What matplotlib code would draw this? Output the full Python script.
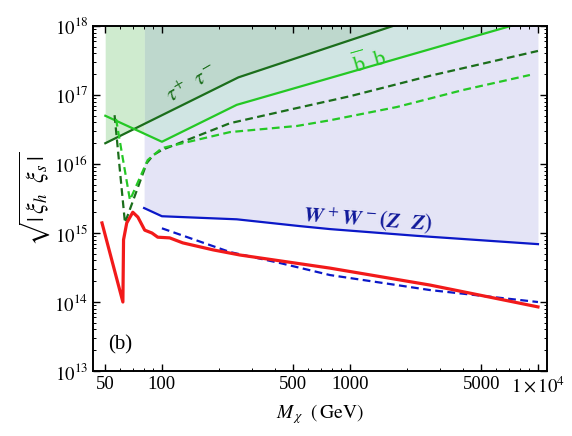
import numpy as np
import matplotlib
matplotlib.use('Agg')
import matplotlib.pyplot as plt
from matplotlib.ticker import LogLocator, NullFormatter, FixedLocator

plt.rcParams['font.family'] = ['Liberation Serif', 'DejaVu Serif']
plt.rcParams['mathtext.fontset'] = 'stix'

# curves (mass in GeV, coupling value)
tau_mass = [50, 255, 10000]
tau_solid = [2.0e16, 1.8e17, 5.0e18]

bb_mass = [50, 100, 250, 10000]
bb_solid = [5.0e16, 2.1e16, 7.2e16, 1.3e18]

tau_dash_mass = [56, 63.6, 83, 90, 100, 230, 500, 1000, 2670, 10000]
tau_dash = [5.1e16, 1.4e15, 1.03e16, 1.35e16, 1.6e16, 3.9e16, 6.3e16, 9.6e16, 1.9e17, 4.35e17]

bb_dash_mass = [57, 67.6, 84, 100, 230, 523, 783, 1778, 3990, 9060]
bb_dash = [4.5e16, 3.0e15, 1.14e16, 1.7e16, 2.9e16, 3.56e16, 4.3e16, 6.7e16, 1.18e17, 1.95e17]

ww_mass = [80.4, 100, 250, 540, 783, 2270, 10000]
ww_solid = [2.3e15, 1.75e15, 1.58e15, 1.26e15, 1.14e15, 9.1e14, 6.9e14]

ww_dash_mass = [100, 230, 425, 783, 2670, 10000]
ww_dash = [1.17e15, 5.3e14, 3.67e14, 2.46e14, 1.49e14, 1.0e14]

red_mass = [48, 62, 62.5, 65, 70, 74.5, 81, 88.5, 95, 110, 129, 187, 260, 783, 2670, 10000]
red_vals = [1.4e15, 1.0e14, 8e14, 1.4e15, 2.0e15, 1.7e15, 1.1e15, 1.0e15, 8.7e14,
            8.5e14, 7.2e14, 5.7e14, 4.8e14, 3.1e14, 1.76e14, 8.5e13]

m_w = 80.4
m_max = 10000
top = 1e18

xticks = [50, 100, 500, 1000, 5000, 10000]
xticklabels = ['50', '100', '500', '1000', '5000', r'$1\times10^{4}$']
yticks = [1e13, 1e14, 1e15, 1e16, 1e17, 1e18]
yticklabels = [r'$10^{13}$', r'$10^{14}$', r'$10^{15}$', r'$10^{16}$', r'$10^{17}$', r'$10^{18}$']


def loglin(x, xs, ys):
    # straight line in log-log between given points
    return 10 ** np.interp(np.log10(x), np.log10(xs), np.log10(ys))


def cut(xs, ys, lo, hi):
    # keep the part of a polyline between lo and hi, adding end points
    xs_new = [lo] + [x for x in xs if lo < x < hi] + [hi]
    ys_new = [loglin(x, xs, ys) for x in xs_new]
    return xs_new, ys_new


dark_green = '#1b6e1b'
light_green = '#25c825'
blue = '#0b18c8'
red = '#f21a1a'

fig = plt.figure(figsize=(5.72, 4.36), dpi=100)
ax = fig.add_axes([0.1626, 0.149, 0.7937, 0.7914])

# shaded regions
ax.fill_between(ww_mass, ww_solid, top, color='#e4e4f6', lw=0)
x, y = cut(bb_mass, bb_solid, m_w, m_max)
ax.fill_between(x, y, top, color='#d0e5e3', lw=0)
x, y = cut(tau_mass, tau_solid, m_w, m_max)
ax.fill_between(x, y, top, color='#bed8cd', lw=0)
x, y = cut(bb_mass, bb_solid, 50, m_w)
ax.fill_between(x, y, top, color='#cfebcf', lw=0)
x, y = cut(tau_mass, tau_solid, 50, m_w)
ax.fill_between(x, y, top, color='#cfebcf', lw=0)

# lines
ax.plot(tau_mass, tau_solid, color=dark_green, lw=1.6)
ax.plot(bb_mass, bb_solid, color=light_green, lw=1.6)
ax.plot(tau_dash_mass, tau_dash, color=dark_green, lw=1.6, dashes=(3.5, 2))
ax.plot(bb_dash_mass, bb_dash, color=light_green, lw=1.6, dashes=(3.5, 2))
ax.plot(ww_mass, ww_solid, color=blue, lw=1.6)
ax.plot(ww_dash_mass, ww_dash, color=blue, lw=1.6, dashes=(3.5, 2))
ax.plot(red_mass, red_vals, color=red, lw=2.3)

ax.set_xscale('log')
ax.set_yscale('log')
ax.set_xlim(43, 11170)
ax.set_ylim(1e13, 1e18)

ax.xaxis.set_major_locator(FixedLocator(xticks))
ax.set_xticklabels(xticklabels)
ax.xaxis.set_minor_locator(LogLocator(base=10, subs=np.arange(2, 10)))
ax.xaxis.set_minor_formatter(NullFormatter())
ax.yaxis.set_major_locator(FixedLocator(yticks))
ax.set_yticklabels(yticklabels)
ax.yaxis.set_minor_locator(LogLocator(base=10, subs=np.arange(2, 10)))
ax.yaxis.set_minor_formatter(NullFormatter())

ax.tick_params(which='both', direction='in', top=True, right=True, labelsize=13.5)
ax.tick_params(which='major', length=5, width=1)
ax.tick_params(which='minor', length=2.5, width=0.7)
for s in ax.spines.values():
    s.set_linewidth(1.4)

ax.text(145, 1.4e17, r'$\tau^{+}\ \ \tau^{-}$', color=dark_green, fontsize=16,
        rotation=30, ha='center', va='center')
ax.text(1280, 3.1e17, r'$\overline{\mathrm{b}}\ \ \mathrm{b}$', color=light_green, fontsize=16,
        rotation=16, ha='center', va='center')
ax.text(1250, 1.6e15, r'$\mathbfit{W}^{\,+}\mathbfit{W}^{\,-}\mathbf{(}\mathbfit{Z\ \ Z}\mathbf{)}$',
        color='#10199a', fontsize=16, rotation=-4, ha='center', va='center')
ax.text(59.8, 2.4e13, '(b)', fontsize=15, ha='center', va='center')

ax.set_xlabel(r'$M_{\,\chi}\ \ (\,\mathrm{GeV})$', fontsize=14)
ax.set_ylabel(r'$\sqrt{|\,\xi_h\ \ \xi_s\,|}$', fontsize=17, labelpad=2)

fig.savefig('out.png', dpi=100)
